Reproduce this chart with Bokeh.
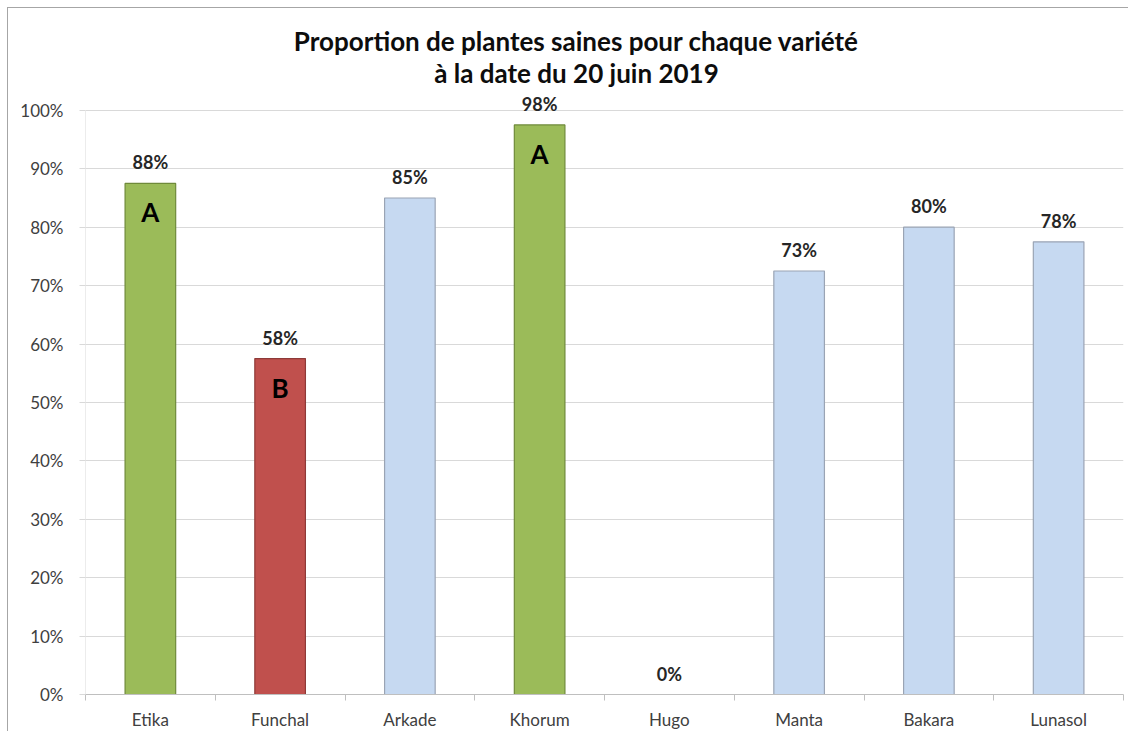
from bokeh.plotting import figure
from bokeh.models import (ColumnDataSource, FactorRange, Range1d, LinearAxis, CategoricalAxis,
                          FixedTicker, NumeralTickFormatter, Label)
from bokeh.core.properties import value
from bokeh.embed import file_html
from bokeh.resources import INLINE

# ---- data ----
varieties = ["Etika", "Funchal", "Arkade", "Khorum", "Hugo", "Manta", "Bakara", "Lunasol"]
healthy = [0.875, 0.575, 0.85, 0.975, 0.0, 0.725, 0.80, 0.775]
value_labels = ["88%", "58%", "85%", "98%", "0%", "73%", "80%", "78%"]
groups = ["A", "B", "", "A", "", "", "", ""]
y_ticks = [0.0, 0.1, 0.2, 0.3, 0.4, 0.5, 0.6, 0.7, 0.8, 0.9, 1.0]
title_lines = ["Proportion de plantes saines pour chaque variété", "à la date du 20 juin 2019"]

fill_by_group = {"A": "#9BBB59", "B": "#C0504D", "": "#C6D9F1"}
line_by_group = {"A": "#6F8A3A", "B": "#8E3A38", "": "#9AA4B4"}

src = ColumnDataSource(dict(
    x=varieties, top=healthy, lab=value_labels,
    fill=[fill_by_group[g] for g in groups],
    line=[line_by_group[g] for g in groups],
))
lettered = [i for i, g in enumerate(groups) if g]
src_letters = ColumnDataSource(dict(
    x=[varieties[i] for i in lettered],
    top=[healthy[i] for i in lettered],
    grp=[groups[i] for i in lettered],
))

FONT = "Lato"

# layout (page pixels): plot area bottom 695, 100% line at 110, frame top reaching the title zone
FRAME_BOTTOM, FULL_LINE, FRAME_TOP = 695, 110, 15
y_top = (FRAME_BOTTOM - FRAME_TOP) / (FRAME_BOTTOM - FULL_LINE)

p = figure(width=1121, height=724, output_backend="svg", toolbar_location=None,
           x_range=FactorRange(*varieties, range_padding=0), y_range=Range1d(0, y_top),
           x_axis_location=None, y_axis_location=None,
           min_border_left=77, min_border_right=6, min_border_top=FRAME_TOP - 8,
           min_border_bottom=37)
p.styles = {"margin-left": "7px", "margin-top": "7px",
            "border-left": "1px solid #A6A6A6", "border-top": "1px solid #A6A6A6"}
p.outline_line_color = None
p.background_fill_color = "white"
p.border_fill_color = "white"

# y axis
yax = LinearAxis(ticker=FixedTicker(ticks=y_ticks),
                 formatter=NumeralTickFormatter(format="0%"))
yax.axis_line_color = None
yax.major_tick_line_color = "#D9D9D9"
yax.major_tick_out = 6
yax.major_tick_in = 0
yax.minor_tick_line_color = None
yax.major_label_standoff = 16
yax.major_label_text_font = FONT
yax.major_label_text_font_size = "17px"
yax.major_label_text_color = "#404040"
p.add_layout(yax, "left")

# vertical axis line, from the lowest to the highest tick only
p.segment(x0=[0], y0=[y_ticks[0]], x1=[0], y1=[y_ticks[-1]], line_color="#D9D9D9", line_width=1)

# x axis: ticks at category boundaries (synthetic coordinates of the factor range) + line
bounds = list(range(len(varieties) + 1))
xtick = LinearAxis(ticker=FixedTicker(ticks=bounds),
                   major_label_overrides={b: "" for b in bounds})
xtick.axis_line_color = "#BFBFBF"
xtick.major_tick_line_color = "#BFBFBF"
xtick.major_tick_out = 6
xtick.major_tick_in = 0
xtick.minor_tick_line_color = None
xtick.major_label_text_font_size = "1px"
xtick.major_label_standoff = 0
p.add_layout(xtick, "below")

xax = CategoricalAxis()
xax.axis_line_color = None
xax.major_tick_line_color = None
xax.major_label_standoff = 2
xax.major_label_text_font = FONT
xax.major_label_text_font_size = "17px"
xax.major_label_text_color = "#404040"
p.add_layout(xax, "below")

p.xgrid.visible = False
p.ygrid.ticker = FixedTicker(ticks=y_ticks)
p.ygrid.grid_line_color = "#D9D9D9"
p.ygrid.grid_line_width = 1

p.vbar(x="x", top="top", width=0.39, source=src, fill_color="fill", line_color="line", line_width=1.2)

p.text(x="x", y="top", text="lab", source=src, text_align="center", text_baseline="bottom",
       y_offset=-10, text_font=value(FONT), text_font_style="bold", text_font_size="18px",
       text_color="#262626")
p.text(x="x", y="top", text="grp", source=src_letters, text_align="center", text_baseline="middle",
       y_offset=29, text_font=value(FONT), text_font_style="bold", text_font_size="26px",
       text_color="black")

# title (two lines), in canvas units (inside the frame's top area)
for i, t in enumerate(title_lines):
    p.add_layout(Label(x=567, y=31 + 32 * i, x_units="canvas", y_units="canvas", text=t,
                       text_align="center", text_baseline="middle", text_font=FONT,
                       text_font_style="bold", text_font_size="26px", text_color="#0D0D0D"))

open("out.html", "w").write(file_html(p, INLINE))
